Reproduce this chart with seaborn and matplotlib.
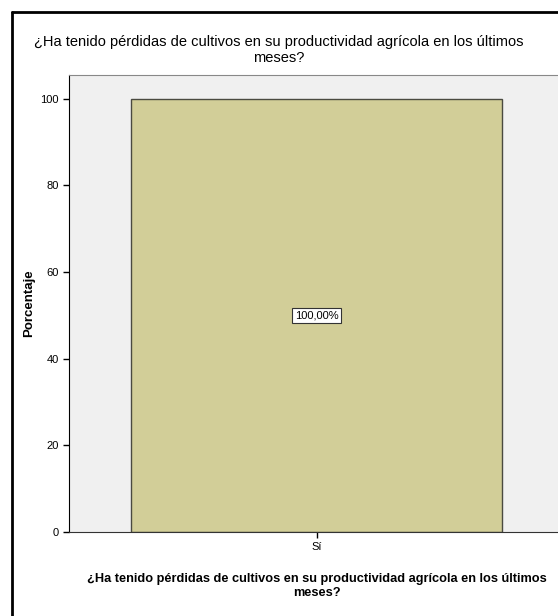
import matplotlib
matplotlib.use("Agg")
import matplotlib.pyplot as plt
import seaborn as sns
import pandas as pd

# datos
categorias = ["Sí"]
porcentajes = [100.0]
etiquetas = ["100,00%"]
titulo = "¿Ha tenido pérdidas de cultivos en su productividad agrícola en los últimos\nmeses?"

df = pd.DataFrame({"cat": categorias, "pct": porcentajes})

sns.set_style("white")
plt.rcParams["font.family"] = ["Liberation Sans", "DejaVu Sans"]
plt.rcParams["text.color"] = "black"
plt.rcParams["axes.labelcolor"] = "black"
plt.rcParams["xtick.color"] = "black"
plt.rcParams["ytick.color"] = "black"

fig = plt.figure(figsize=(5.58, 6.16), dpi=100)
ax = fig.add_axes([69 / 558, 1 - 532 / 616, 495 / 558, (532 - 75) / 616])
ax.set_facecolor("#F0F0F0")

sns.barplot(data=df, x="cat", y="pct", color="#D2CE98", width=0.75,
            edgecolor="#4A4A40", linewidth=1.0, saturation=1, ax=ax)
ax.set_xlim(-0.5, 0.5)
ax.set_ylim(0, 105.5)
ax.set_yticks([0, 20, 40, 60, 80, 100])

for i, (v, lab) in enumerate(zip(porcentajes, etiquetas)):
    ax.text(i, v / 2, lab, ha="center", va="center", fontsize=8,
            bbox=dict(boxstyle="square,pad=0.25", fc="white", ec="#333333", lw=0.8))

ax.spines["right"].set_visible(False)
ax.spines["left"].set_color("black")
ax.spines["bottom"].set_color("#333333")
ax.spines["top"].set_color("#888888")
ax.tick_params(axis="both", length=4, width=1, labelsize=8, direction="out",
               left=True, bottom=True)

ax.set_ylabel("Porcentaje", fontsize=9.5, fontweight="bold")
ax.yaxis.set_label_coords(-0.068, 0.5)
ax.set_xlabel(titulo, fontsize=9.2, fontweight="bold", labelpad=15)
fig.text(0.5, 1 - 50 / 616, titulo, ha="center", va="center", fontsize=10.5)

# marco negro
fig.add_artist(plt.Line2D([12 / 558, 12 / 558], [0, 1 - 12 / 616], color="black", lw=2,
                          transform=fig.transFigure))
fig.add_artist(plt.Line2D([12 / 558, 1], [1 - 12 / 616, 1 - 12 / 616], color="black", lw=2,
                          transform=fig.transFigure))

fig.savefig("out.png", dpi=100)
